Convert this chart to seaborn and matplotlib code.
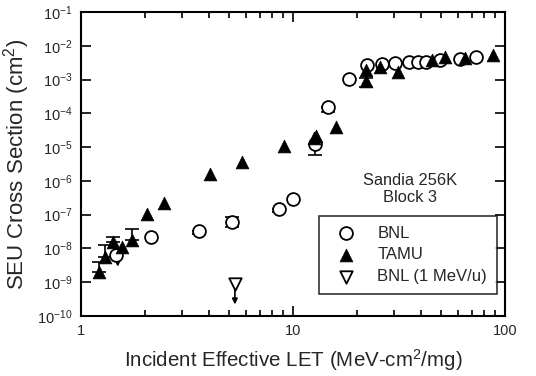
import numpy as np
import pandas as pd
import seaborn as sns
import matplotlib
matplotlib.use('Agg')
import matplotlib.pyplot as plt
from matplotlib.ticker import LogLocator, NullLocator, NullFormatter

# BNL heavy-ion data (LET, cross section)
bnl_x = [1.46, 2.14, 3.61, 5.16, 8.6, 10.0, 12.7, 14.7, 18.4, 22.3, 26.3, 30.3,
         35.3, 38.9, 42.5, 49.3, 61.1, 73.1]
bnl_y = [6.5e-9, 2.2e-8, 3.3e-8, 6.1e-8, 1.5e-7, 2.9e-7, 1.2e-5, 1.5e-4, 1.05e-3,
         2.7e-3, 2.9e-3, 3.1e-3, 3.3e-3, 3.3e-3, 3.3e-3, 3.8e-3, 4.1e-3, 4.7e-3]

# TAMU data
tamu_x = [1.22, 1.30, 1.42, 1.56, 1.74, 2.05, 2.46, 4.06, 5.74, 9.04, 12.5, 12.8,
          15.9, 22.0, 22.2, 25.7, 31.3, 45.3, 52.1, 64.8, 88.0]
tamu_y = [2.0e-9, 5.6e-9, 1.6e-8, 1.1e-8, 1.8e-8, 1.05e-7, 2.2e-7, 1.6e-6, 3.6e-6,
          1.1e-5, 1.8e-5, 2.2e-5, 4.0e-5, 1.9e-3, 9.0e-4, 2.4e-3, 1.7e-3, 3.8e-3,
          4.6e-3, 4.4e-3, 5.3e-3]

# BNL 1 MeV/u (upper limit)
bnl1_x = [5.32]
bnl1_y = [8.9e-10]

# error bars: x, low, high
err_x = [1.22, 1.30, 1.42, 1.74, 3.61, 5.16, 8.6, 12.7, 14.7, 22.2]
err_lo = [2.0e-9, 5.6e-9, 1.6e-8, 1.8e-8, 2.6e-8, 4.3e-8, 1.2e-7, 5.9e-6, 1.1e-4, 6.0e-4]
err_hi = [4.0e-9, 1.3e-8, 2.2e-8, 3.8e-8, 3.3e-8, 8.5e-8, 1.5e-7, 1.2e-5, 1.5e-4, 1.1e-3]

# upper-limit arrows: x, from, to
arr_x = [1.49, 5.32]
arr_from = [6.5e-9, 8.9e-10]
arr_to = [2.9e-9, 2.2e-10]

sns.set_style('ticks')
plt.rcParams['font.family'] = ['Liberation Sans', 'DejaVu Sans']
plt.rcParams['mathtext.fontset'] = 'custom'
plt.rcParams['mathtext.rm'] = 'Liberation Sans'
plt.rcParams['mathtext.it'] = 'Liberation Sans'

fig = plt.figure(figsize=(5.36, 3.76), dpi=100)
ax = fig.add_axes([81 / 536, 60 / 376, 424 / 536, 304 / 376])

ax.set_xscale('log')
ax.set_yscale('log')

# error bars first so the markers sit on top
lo = np.array(err_lo)
ax.errorbar(err_x, lo, yerr=[np.zeros(len(err_x)), np.array(err_hi) - lo],
            fmt='none', ecolor='black', elinewidth=1.2, capsize=5, capthick=1.2,
            zorder=1)

for x0, y0, y1 in zip(arr_x, arr_from, arr_to):
    ax.annotate('', xy=(x0, y1), xytext=(x0, y0),
                arrowprops=dict(arrowstyle='-|>', color='black', lw=1.2,
                                mutation_scale=8, shrinkA=0, shrinkB=0), zorder=1)

bnl = pd.DataFrame({'let': bnl_x, 'xs': bnl_y})
tamu = pd.DataFrame({'let': tamu_x, 'xs': tamu_y})
bnl1 = pd.DataFrame({'let': bnl1_x, 'xs': bnl1_y})

sns.scatterplot(data=bnl, x='let', y='xs', marker='o', s=85, facecolor='white',
                edgecolor='black', linewidth=1.3, label='BNL', ax=ax, zorder=3)
sns.scatterplot(data=tamu, x='let', y='xs', marker='^', s=85, color='black',
                edgecolor='black', linewidth=0.5, label='TAMU', ax=ax, zorder=3)
sns.scatterplot(data=bnl1, x='let', y='xs', marker='v', s=80, facecolor='white',
                edgecolor='black', linewidth=1.3, label='BNL (1 MeV/u)', ax=ax,
                zorder=3)

ax.set_xlim(1, 100)
ax.set_ylim(1e-10, 1e-1)
ax.yaxis.set_major_locator(LogLocator(base=10, numticks=20))
ax.yaxis.set_minor_locator(NullLocator())
ax.xaxis.set_minor_locator(LogLocator(base=10, subs=np.arange(2, 10), numticks=20))
ax.xaxis.set_minor_formatter(NullFormatter())
ax.set_xticks([1, 10, 100])
ax.set_xticklabels(['1', '10', '100'])

ax.tick_params(which='both', direction='in', top=True, right=True, color='black',
               width=1.2, labelsize=10.5, pad=6)
ax.tick_params(which='major', length=7)
ax.tick_params(which='minor', length=4)
for sp in ax.spines.values():
    sp.set_linewidth(1.5)
    sp.set_color('black')

ax.set_xlabel('Incident Effective LET (MeV-cm$^2$/mg)', fontsize=14.8, labelpad=6)
ax.set_ylabel('SEU Cross Section (cm$^2$)', fontsize=16, labelpad=4)

ax.text(0.776, 0.418, 'Sandia 256K\nBlock 3', transform=ax.transAxes,
        ha='center', va='center', fontsize=11.8, linespacing=1.2)

leg = ax.legend(loc='lower right', bbox_to_anchor=(0.981, 0.072), frameon=True,
                fancybox=False, fontsize=12, handletextpad=0.9, borderpad=0.6,
                labelspacing=0.4, borderaxespad=0)
leg.get_frame().set_edgecolor('black')
leg.get_frame().set_linewidth(1.2)

fig.savefig('out.png', dpi=100)
